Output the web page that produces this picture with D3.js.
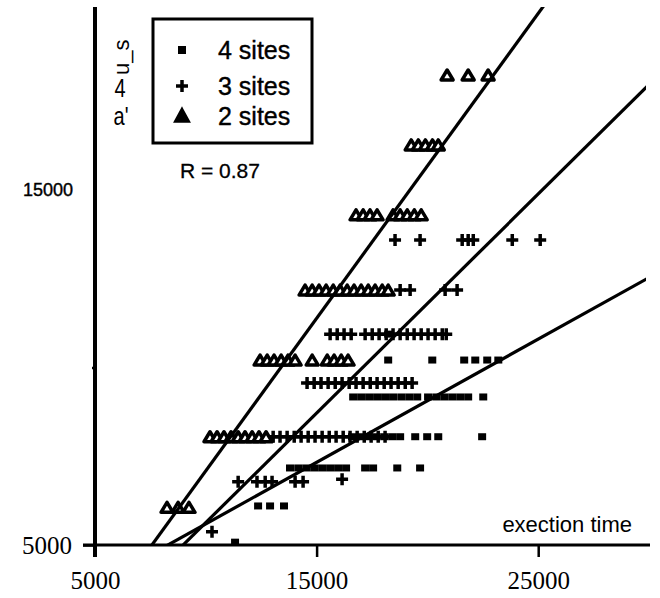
<!DOCTYPE html>
<html>
<head>
    <title>Execution time scatter</title>
    <script src="https://d3js.org/d3.v7.min.js"></script>
    <style>
        body { margin: 0; background: #fff; }
        svg { display: block; }
        .serif { font-family: "Liberation Serif", "DejaVu Serif", serif; }
        .sans { font-family: "Liberation Sans", Arial, sans-serif; }
    </style>
</head>
<body>
    <svg id="chart" width="660" height="598"></svg>

    <script>
        // tick labels
        var xTicks = [5000, 15000, 25000];
        var yTicks = [5000, 10000, 15000];

        // series: legend names and fitted lines (slope, intercept)
        var seriesNames = ["4 sites", "3 sites", "2 sites"];
        var fitSlope = [0.347, 0.617, 0.859];
        var fitIntercept = [2124, -538, -1501];

        // 4 sites (squares), one row per y level
        var fourSites = [
            {y: 10940, x: [18230]},
            {y: 10210, x: [18230, 20220, 21660, 22160, 22700, 23200]},
            {y: 9170, x: [16650, 17010, 17370, 17730, 18090, 18450, 18820, 19180, 19540,
                          20030, 20400, 20760, 21120, 21480, 21840, 22520]},
            {y: 8050, x: [16600, 16960, 17330, 17690, 18050, 18410, 18770, 19450, 19990, 20490, 22470]},
            {y: 7170, x: [13800, 14170, 14530, 14890, 15250, 15610, 15970, 16330, 17190, 17550, 18640, 19670]},
            {y: 6100, x: [12360, 12900, 13530]},
            {y: 5080, x: [11320]}
        ];

        // 3 sites (plus)
        var threeSites = [
            {y: 13590, x: [18540, 19670, 21570, 21840, 22070, 23830, 25090]},
            {y: 12180, x: [18770, 19220, 20800, 21340]},
            {y: 10940, x: [15610, 15930, 16240, 16560, 17190, 17510, 17820, 18140, 18450,
                           18770, 19090, 19400, 19720, 20030, 20350, 20670, 20850]},
            {y: 9560, x: [14570, 14890, 15200, 15520, 15840, 16150, 16470, 16780, 17100,
                          17420, 17730, 18050, 18360, 18680, 19000, 19310]},
            {y: 8050, x: [13040, 13350, 13670, 13990, 14300, 14620, 14930, 15250, 15570,
                          15880, 16200, 16510, 16830, 17150, 17460, 17780, 18090]},
            {y: 6780, x: [11460, 12310, 12680, 12990, 14030, 14390]},
            {y: 6850, x: [16150]},
            {y: 5370, x: [10280]}
        ];

        // 2 sites (triangles)
        var twoSites = [
            {y: 18240, x: [20890, 21840, 22740]},
            {y: 16270, x: [19270, 19590, 19910, 20230, 20490]},
            {y: 14300, x: [16780, 17100, 17410, 17730, 18450, 18770, 19090, 19410, 19720]},
            {y: 12180, x: [14480, 14800, 15110, 15430, 15750, 16060, 16380, 16690, 17010,
                           17330, 17640, 17960, 18230]},
            {y: 10210, x: [12450, 12770, 13080, 13400, 13710, 14030, 14800, 15480, 15790, 16110, 16420]},
            {y: 8050, x: [10190, 10510, 10820, 11140, 11460, 11770, 12090, 12400, 12720]},
            {y: 6060, x: [8250, 8750, 9240]}
        ];

        var svg = d3.select("#chart");

        var x = d3.scaleLinear().domain([5000, 30000]).range([95, 649]);
        var y = d3.scaleLinear().domain([5000, 20000]).range([545, 12.5]);

        function flatten(rows) {
            var pts = [];
            rows.forEach(function(r) {
                r.x.forEach(function(v) { pts.push([v, r.y]); });
            });
            return pts;
        }

        var squarePath = "M-4,-3.5H4V3.5H-4Z";
        var plusPath = "M-6,0H6M0,-6V6";
        var triPath = "M0,-5L6,5H-6Z";

        // axes lines (drawn by hand so they can overhang)
        svg.append("line")
            .attr("x1", 95).attr("x2", 95)
            .attr("y1", 7).attr("y2", 557)
            .attr("stroke", "#000").attr("stroke-width", 4);
        svg.append("line")
            .attr("x1", 83).attr("x2", 650)
            .attr("y1", y(5000)).attr("y2", y(5000))
            .attr("stroke", "#000").attr("stroke-width", 3);

        var xAxis = svg.append("g")
            .attr("transform", "translate(0," + y(5000) + ")")
            .call(d3.axisBottom(x).tickValues(xTicks).tickSize(12).tickPadding(14).tickFormat(d3.format("d")));
        xAxis.select(".domain").remove();
        xAxis.selectAll(".tick line").attr("stroke-width", 2.5);
        xAxis.selectAll(".tick text")
            .attr("class", "serif")
            .attr("font-size", 25)
            .attr("fill", "#000");

        var yAxis = svg.append("g")
            .attr("transform", "translate(95,0)")
            .call(d3.axisLeft(y).tickValues(yTicks).tickSize(12).tickPadding(10).tickFormat(d3.format("d")));
        yAxis.select(".domain").remove();
        yAxis.selectAll(".tick line")
            .attr("stroke-width", 2.5)
            .attr("x2", function(d) { return d === 5000 ? -12 : (d === 10000 ? -3 : 0); });
        yAxis.selectAll(".tick text")
            .attr("class", function(d) { return d === 15000 ? "sans" : "serif"; })
            .attr("font-size", function(d) { return d === 15000 ? 18 : 25; })
            .attr("stroke", function(d) { return d === 15000 ? "#000" : "none"; })
            .attr("stroke-width", 0.4)
            .attr("x", function(d) { return d === 15000 ? -22 : -23; })
            .attr("fill", "#000")
            .text(function(d) { return d === 10000 ? "" : d; });

        // points
        var plot = svg.append("g");
        plot.selectAll(".sq").data(flatten(fourSites)).join("path")
            .attr("class", "sq")
            .attr("d", squarePath)
            .attr("transform", function(d) { return "translate(" + x(d[0]) + "," + y(d[1]) + ")"; })
            .attr("fill", "#000");
        plot.selectAll(".pl").data(flatten(threeSites)).join("path")
            .attr("class", "pl")
            .attr("d", plusPath)
            .attr("transform", function(d) { return "translate(" + x(d[0]) + "," + y(d[1]) + ")"; })
            .attr("stroke", "#000").attr("stroke-width", 3.5).attr("fill", "none");
        plot.selectAll(".tr").data(flatten(twoSites)).join("path")
            .attr("class", "tr")
            .attr("d", triPath)
            .attr("transform", function(d) { return "translate(" + x(d[0]) + "," + y(d[1]) + ")"; })
            .attr("stroke", "#000").attr("stroke-width", 3.5)
            .attr("stroke-linejoin", "round").attr("fill", "#fff");

        // fitted lines, clipped to the plot
        svg.append("clipPath").attr("id", "clip")
            .append("rect").attr("x", 95).attr("y", 7).attr("width", 551).attr("height", 538);
        var fitLine = d3.line()
            .x(function(d) { return x(d[0]); })
            .y(function(d) { return y(d[1]); });
        svg.append("g").attr("clip-path", "url(#clip)")
            .selectAll("path").data(fitSlope).join("path")
            .attr("d", function(s, i) {
                var xs = [5000, 32000];
                return fitLine(xs.map(function(v) { return [v, s * v + fitIntercept[i]]; }));
            })
            .attr("stroke", "#000").attr("stroke-width", 3.2).attr("fill", "none");

        // legend
        var legend = svg.append("g");
        legend.append("rect")
            .attr("x", 153).attr("y", 19).attr("width", 159).attr("height", 124)
            .attr("fill", "#fff").attr("stroke", "#000").attr("stroke-width", 3);
        var legendY = [50, 86, 116];
        var legendMarks = [
            {d: "M-4,-4H4V4H-4Z", fill: "#000", stroke: "none"},
            {d: "M-6,0H6M0,-6V6", fill: "none", stroke: "#000"},
            {d: "M0,-6L6,5H-6Z", fill: "#000", stroke: "#000"}
        ];
        seriesNames.forEach(function(name, i) {
            legend.append("path")
                .attr("d", legendMarks[i].d)
                .attr("transform", "translate(182," + legendY[i] + ")")
                .attr("fill", legendMarks[i].fill)
                .attr("stroke", legendMarks[i].stroke)
                .attr("stroke-width", 3.5);
            legend.append("text")
                .attr("class", "sans")
                .attr("x", 218).attr("y", legendY[i] + 9)
                .attr("font-size", 25)
                .attr("stroke", "#000").attr("stroke-width", 0.4)
                .text(name);
        });

        svg.append("text").attr("class", "sans")
            .attr("x", 180).attr("y", 178)
            .attr("font-size", 21)
            .attr("stroke", "#000").attr("stroke-width", 0.3)
            .text("R = 0.87");

        // garbled axis label
        svg.append("text").attr("class", "sans")
            .attr("transform", "translate(129,75) rotate(-90)")
            .attr("font-size", 22)
            .text("u_s");
        svg.append("text").attr("class", "sans")
            .attr("transform", "translate(120,97) scale(0.8,1)")
            .attr("text-anchor", "middle")
            .attr("font-size", 25)
            .text("4");
        svg.append("text").attr("class", "sans")
            .attr("transform", "translate(121,125) scale(0.8,1)")
            .attr("text-anchor", "middle")
            .attr("font-size", 25)
            .text("a'");

        svg.append("text").attr("class", "sans")
            .attr("x", 632).attr("y", 532)
            .attr("text-anchor", "end")
            .attr("font-size", 22)
            .text("exection time");
    </script>
</body>
</html>
